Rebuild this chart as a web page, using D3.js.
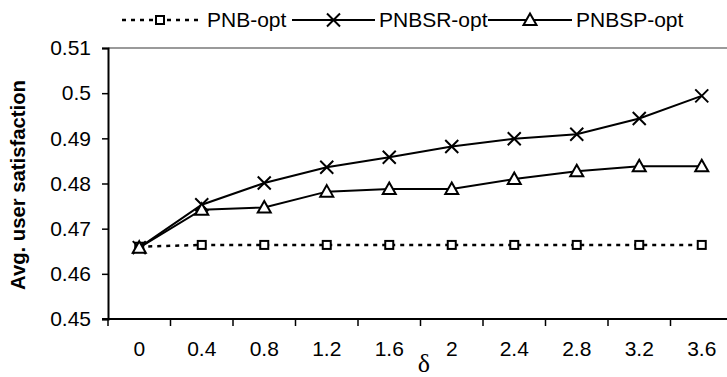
<!DOCTYPE html>
<html>
<head>
<meta charset="utf-8">
<script src="https://cdn.jsdelivr.net/npm/d3@7"></script>
<style>
  body { margin: 0; background: #fff; }
  text { font-family: "Liberation Sans", Arial, sans-serif; }
</style>
</head>
<body>
<svg width="727" height="377"></svg>
<script>
// data
var deltas = ["0", "0.4", "0.8", "1.2", "1.6", "2", "2.4", "2.8", "3.2", "3.6"];
var pnbOpt   = [0.4660, 0.4664, 0.4664, 0.4664, 0.4664, 0.4664, 0.4664, 0.4664, 0.4664, 0.4664];
var pnbsrOpt = [0.4658, 0.4753, 0.4801, 0.4836, 0.4858, 0.4882, 0.4899, 0.4909, 0.4944, 0.4994];
var pnbspOpt = [0.4658, 0.4742, 0.4747, 0.4782, 0.4788, 0.4788, 0.4810, 0.4827, 0.4838, 0.4838];
var seriesNames = ["PNB-opt", "PNBSR-opt", "PNBSP-opt"];
var yTicks = [0.45, 0.46, 0.47, 0.48, 0.49, 0.50, 0.51];

var margin = {top: 48, left: 108, bottom: 58}
var W = 727, H = 377

var svg = d3.select("svg")

var x = d3.scaleBand().domain(deltas).range([margin.left, margin.left + 10 * 62.5]).padding(0);
var y = d3.scaleLinear().domain([0.45, 0.51]).range([H - margin.bottom, margin.top]);
var cx = function(d, i) { return x(deltas[i]) + x.bandwidth() / 2; }

// top frame line (grey)
svg.append("line")
  .attr("x1", margin.left).attr("x2", W)
  .attr("y1", y(0.51)).attr("y2", y(0.51))
  .style("stroke", "#9a9a9a").style("stroke-width", 2)

// y axis
var gy = svg.append("g")
  .attr("transform", "translate(" + margin.left + ",0)")
  .call(d3.axisLeft(y).tickValues(yTicks).tickSize(6).tickPadding(11)
    .tickFormat(function(d) { return d3.format("")(+d.toFixed(2)); }));
gy.select(".domain").style("stroke", "#000").style("stroke-width", 2)
gy.selectAll(".tick line").style("stroke", "#000").style("stroke-width", 1.5)
gy.selectAll("text").style("font-size", "21px").style("font-family", "Liberation Sans, Arial, sans-serif").attr("fill", "#000")

// x axis: labels at band centres, ticks at band edges
var gx = svg.append("g")
  .attr("transform", "translate(0," + y(0.45) + ")")
  .call(d3.axisBottom(x).tickSize(0).tickPadding(22));
gx.select(".domain").remove()
gx.selectAll("text").style("font-size", "21px").style("font-family", "Liberation Sans, Arial, sans-serif").attr("fill", "#000")
svg.append("line")
  .attr("x1", margin.left - 6).attr("x2", W)
  .attr("y1", y(0.45)).attr("y2", y(0.45))
  .style("stroke", "#000").style("stroke-width", 2)
svg.append("g").selectAll("line").data(deltas).enter().append("line")
  .attr("x1", function(d) { return x(d); }).attr("x2", function(d) { return x(d); })
  .attr("y1", y(0.45)).attr("y2", y(0.45) + 7)
  .style("stroke", "#000").style("stroke-width", 1.5)

// axis titles
svg.append("text")
  .attr("transform", "translate(25,185) rotate(-90)")
  .style("text-anchor", "middle")
  .style("font-family", "Liberation Sans Narrow, Arial Narrow, Liberation Sans, sans-serif")
  .style("font-size", "21px").style("font-weight", "bold")
  .attr("textLength", 210).attr("lengthAdjust", "spacingAndGlyphs")
  .text("Avg. user satisfaction")

svg.append("text")
  .attr("x", 424).attr("y", 372)
  .style("text-anchor", "middle")
  .style("font-family", "Liberation Serif, Times New Roman, serif")
  .style("font-size", "26px")
  .text("δ")

// marker drawers
function drawSquare(g, px, py) {
  g.append("rect").attr("x", px - 4).attr("y", py - 4).attr("width", 8).attr("height", 8)
    .style("fill", "#fff").style("stroke", "#000").style("stroke-width", 2)
}
function drawCross(g, px, py) {
  g.append("path").attr("d", "M" + (px - 6.5) + "," + (py - 6.5) + "L" + (px + 6.5) + "," + (py + 6.5) +
      "M" + (px + 6.5) + "," + (py - 6.5) + "L" + (px - 6.5) + "," + (py + 6.5))
    .style("fill", "none").style("stroke", "#000").style("stroke-width", 2)
}
function drawTriangle(g, px, py) {
  g.append("path").attr("d", "M" + px + "," + (py - 6.5) + "L" + (px + 6.5) + "," + (py + 5) + "L" + (px - 6.5) + "," + (py + 5) + "Z")
    .style("fill", "#fff").style("stroke", "#000").style("stroke-width", 2)
}

var series = [
  {values: pnbOpt, dash: "4,5", width: 2.5, mark: drawSquare},
  {values: pnbsrOpt, dash: null, width: 2, mark: drawCross},
  {values: pnbspOpt, dash: null, width: 2, mark: drawTriangle}
]

var line = d3.line().x(cx).y(function(d) { return y(d); })
var fig = svg.append("g")
series.forEach(function(s) {
  fig.append("path").datum(s.values)
    .attr("d", line)
    .style("fill", "none").style("stroke", "#000").style("stroke-width", s.width)
    .style("stroke-dasharray", s.dash)
})
series.forEach(function(s) {
  var g = fig.append("g")
  s.values.forEach(function(v, i) { s.mark(g, cx(v, i), y(v)); })
})

// legend
var legendX = [122, 292, 488], legendW = [76, 83, 84], ly = 20
var leg = svg.append("g")
series.forEach(function(s, i) {
  leg.append("line")
    .attr("x1", legendX[i]).attr("x2", legendX[i] + legendW[i])
    .attr("y1", ly).attr("y2", ly)
    .style("stroke", "#000").style("stroke-width", s.width)
    .style("stroke-dasharray", s.dash)
  s.mark(leg, legendX[i] + legendW[i] / 2, ly)
  leg.append("text")
    .attr("x", legendX[i] + legendW[i] + (i === 0 ? 9 : 4)).attr("y", ly + 7)
    .style("font-size", "21px")
    .text(seriesNames[i])
})
</script>
</body>
</html>
